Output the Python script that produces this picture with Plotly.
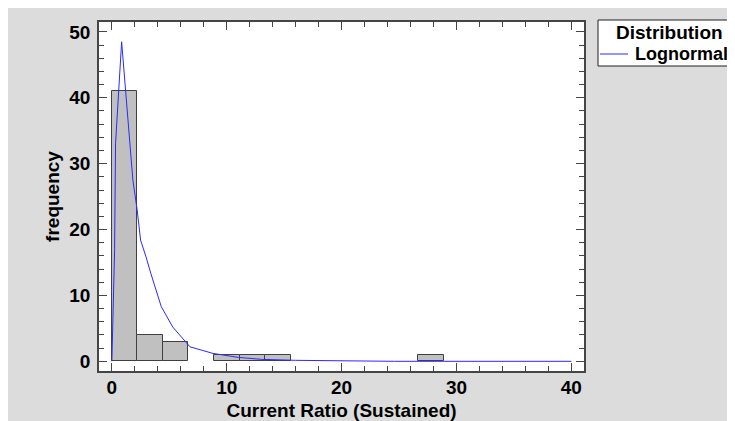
import plotly.graph_objects as go

# Histogram data (bins of width 40/18 starting at 0)
bin_width = 40 / 18
bin_starts = [0.0, 2.222, 4.444, 6.667, 8.889, 11.111, 13.333, 15.556, 17.778,
              20.0, 22.222, 24.444, 26.667, 28.889, 31.111, 33.333, 35.556, 37.778]
counts = [41, 4, 3, 0, 1, 1, 1, 0, 0, 0, 0, 0, 1, 0, 0, 0, 0, 0]

# Fitted lognormal curve
curve_x = [0.0, 0.04, 0.1, 0.24, 0.32, 0.5, 0.85, 1.2, 1.5, 1.83, 2.2, 2.5, 3.0,
           3.4, 4.3, 5.3, 6.8, 8.8, 11.0, 13.0, 16.0, 20.0, 24.6, 24.6, 40.0]
curve_y = [0.0, 3.3, 8.0, 17.0, 33.0, 39.0, 48.5, 41.0, 35.0, 27.5, 23.0, 18.4, 15.7,
           13.3, 8.3, 5.2, 2.2, 1.2, 0.6, 0.3, 0.15, 0.05, 0.02, 0.0, 0.0]

x_ticks = [0, 10, 20, 30, 40]
y_ticks = [0, 10, 20, 30, 40, 50]

legend_title = "Distribution"
series_name = "Lognormal"

bar_x = [s + bin_width / 2 for s, c in zip(bin_starts, counts) if c > 0]
bar_y = [c for c in counts if c > 0]

FONT = "Liberation Sans"
FRAME = "#454545"
CURVE = "#2a2aff"
FS = 19
W, H = 727, 413
L, R, T, B = 91, 151, 14, 50
PW, PH = W - L - R, H - T - B


def px(xp):  # page pixel -> paper x
    return (xp - 8 - L) / PW


def py(yp):  # page pixel -> paper y
    return (H - B - (yp - 8)) / PH


fig = go.Figure()
fig.add_trace(go.Bar(
    x=bar_x, y=bar_y, width=bin_width,
    marker=dict(color="#c0c0c0", line=dict(color="#404040", width=1)),
    showlegend=False, hoverinfo="skip",
))
fig.add_trace(go.Scatter(
    x=curve_x, y=curve_y, mode="lines", name=series_name,
    line=dict(color=CURVE, width=1), showlegend=False,
))

axis_common = dict(
    showline=True, linecolor=FRAME, linewidth=1.5, mirror="allticks",
    ticks="inside", tickcolor=FRAME, tickwidth=1, ticklen=8,
    showgrid=False, zeroline=False, automargin=False,
    tickfont=dict(family=FONT, size=FS, color="black", weight="bold"),
)

fig.update_layout(
    width=W, height=H,
    margin=dict(l=L, r=R, t=T, b=B),
    paper_bgcolor="#dcdcdc", plot_bgcolor="white",
    bargap=0, showlegend=False,
    font=dict(family=FONT, color="black"),
    xaxis=dict(
        range=[-1.12, 41.1], tickvals=x_ticks,
        minor=dict(dtick=2, tick0=0, ticks="inside", ticklen=5, tickcolor=FRAME, showgrid=False),
        title=dict(text="<b>Current Ratio (Sustained)</b>", font=dict(family=FONT, size=FS), standoff=9),
        ticklabelstandoff=-2,
        **axis_common,
    ),
    yaxis=dict(
        range=[-1.47, 51.5], tickvals=y_ticks,
        minor=dict(dtick=2, tick0=0, ticks="inside", ticklen=5, tickcolor=FRAME, showgrid=False),
        title=dict(text="<b>frequency</b>", font=dict(family=FONT, size=FS), standoff=5),
        ticklabelstandoff=3,
        **axis_common,
    ),
    shapes=[
        dict(type="rect", xref="paper", yref="paper",
             x0=px(598), x1=px(760), y0=py(66), y1=py(20),
             fillcolor="white", line=dict(color="#202020", width=1)),
        dict(type="line", xref="paper", yref="paper",
             x0=px(600), x1=px(628), y0=py(54), y1=py(54),
             line=dict(color=CURVE, width=1)),
    ],
    annotations=[
        dict(text="<b>" + legend_title + "</b>", xref="paper", yref="paper",
             x=px(669), y=py(32), xanchor="center", yanchor="middle", showarrow=False,
             font=dict(family=FONT, size=FS, color="black")),
        dict(text="<b>" + series_name + "</b>", xref="paper", yref="paper",
             x=px(633), y=py(54), xanchor="left", yanchor="middle", showarrow=False,
             font=dict(family=FONT, size=18, color="black")),
    ],
)

fig.write_html(
    "out.html",
    post_script="document.documentElement.style.overflow='hidden';document.body.style.overflow='hidden';",
)
